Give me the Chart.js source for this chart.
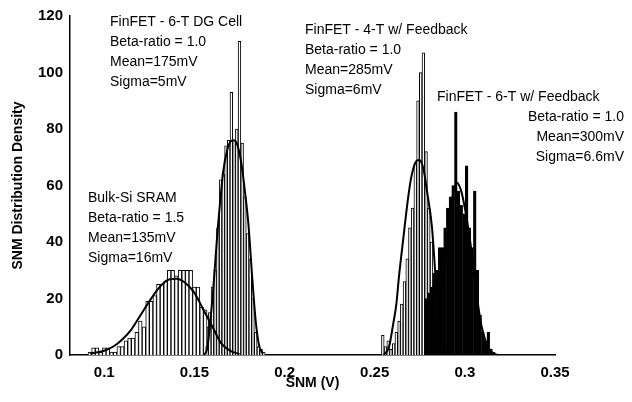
<!DOCTYPE html>
<html lang="en">
  <head>
    <meta charset="UTF-8" />
    <title>SNM Distribution Density</title>
    <style>
      html,
      body {
        margin: 0;
        padding: 0;
        background: #fff;
      }
      #snm-chart {
        display: block;
      }
    </style>
  </head>

  <body>
    <canvas id="snm-chart" width="632" height="402"></canvas>

    <script src="https://cdn.jsdelivr.net/npm/chart.js"></script>
    <script>
      // axis ticks
      const xTicks = [0.1, 0.15, 0.2, 0.25, 0.3, 0.35];
      const yTicks = [0, 20, 40, 60, 80, 100, 120];

      // Bulk-Si SRAM histogram (bin centre in V, density)
      const bulkSnm = [
        0.092, 0.094, 0.096, 0.098, 0.1, 0.102, 0.104, 0.106, 0.108, 0.11,
        0.112, 0.114, 0.116, 0.118, 0.12, 0.122, 0.124, 0.126, 0.128, 0.13,
        0.132, 0.134, 0.136, 0.138, 0.14, 0.142, 0.144, 0.146, 0.148, 0.15,
        0.152, 0.154, 0.156, 0.158, 0.16, 0.162, 0.164, 0.166, 0.168,
      ];
      const bulkDensity = [
        1, 2.5, 2.5, 1, 2.5, 2.5, 1, 1, 3, 3, 5, 6, 6, 8, 12, 10, 19, 19, 21,
        25, 25, 26, 30, 30, 28, 30, 30, 30, 30, 24, 24, 17, 16, 10, 8, 5, 3, 2,
        1,
      ];
      const bulkFitSnm = [
        0.092, 0.1, 0.105, 0.11, 0.115, 0.12, 0.125, 0.13, 0.135, 0.14, 0.145,
        0.15, 0.155, 0.16, 0.165, 0.17, 0.175,
      ];
      const bulkFit = [
        0.5, 1.5, 3, 5.5, 9, 14, 19, 23.5, 26.5, 27, 25.5, 22, 16, 10, 4, 1.5,
        0.3,
      ];

      // FinFET 6-T DG cell
      const dgSnm = [
        0.157, 0.1585, 0.16, 0.1615, 0.163, 0.1645, 0.166, 0.1675, 0.169,
        0.1705, 0.172, 0.1735, 0.175, 0.1765, 0.178, 0.1795, 0.181, 0.1825,
        0.184, 0.1855, 0.187, 0.1885,
      ];
      const dgDensity = [
        3, 15, 24, 30, 45, 62, 64, 74, 76, 93, 76, 80, 111, 75, 56, 43, 34, 20,
        8, 3, 2, 1,
      ];
      const dgFitSnm = [
        0.155, 0.157, 0.16, 0.163, 0.166, 0.168, 0.17, 0.172, 0.174, 0.176,
        0.178, 0.18, 0.182, 0.184, 0.186, 0.188,
      ];
      const dgFit = [0, 2, 20, 45, 65, 72, 75.5, 76, 74, 68, 58, 46, 28, 12, 3, 0.5];

      // FinFET 4-T w/ feedback
      const fourTSnm = [
        0.2545, 0.256, 0.2575, 0.259, 0.2605, 0.262, 0.2635, 0.265, 0.2665,
        0.268, 0.2695, 0.271, 0.2725, 0.274, 0.2755, 0.277, 0.2785, 0.28,
        0.2815, 0.283, 0.2845, 0.286, 0.2875,
      ];
      const fourTDensity = [
        7, 3, 5, 2, 4, 8, 12, 18, 26, 34, 45, 52, 68, 90, 100, 107, 72, 52, 40,
        25, 14, 6, 2,
      ];
      const fourTFitSnm = [
        0.255, 0.258, 0.26, 0.262, 0.2635, 0.266, 0.268, 0.27, 0.2725, 0.2746,
        0.277, 0.279, 0.2818, 0.284, 0.2856, 0.288, 0.29,
      ];
      const fourTFit = [0, 3, 10, 18, 28, 42, 53, 62, 68, 69, 66, 58, 45, 25, 10, 3, 0.5];

      // FinFET 6-T w/ feedback
      const sixTSnm = [
        0.2785, 0.28, 0.2815, 0.283, 0.2845, 0.286, 0.2875, 0.289, 0.2905,
        0.292, 0.2935, 0.295, 0.2965, 0.298, 0.2995, 0.301, 0.3025, 0.304,
        0.3055, 0.307, 0.3085, 0.31, 0.3115, 0.313, 0.3145, 0.316,
      ];
      const sixTDensity = [
        20, 22, 24, 29, 30, 38, 38, 45, 52, 56, 60, 86, 58, 53, 50, 67, 45, 38,
        58, 30, 14, 8, 5, 8, 2, 1,
      ];
      const sixTFitSnm = [
        0.278, 0.282, 0.285, 0.288, 0.291, 0.2935, 0.2956, 0.298, 0.3, 0.303,
        0.306, 0.309, 0.312, 0.315, 0.318,
      ];
      const sixTFit = [0, 4, 12, 27, 45, 57, 61, 58, 52, 40, 24, 11, 4, 1, 0];

      // text blocks written over the plot
      const notes = [
        {
          x: 110, y: 22, align: "left",
          lines: ["FinFET - 6-T DG Cell", "Beta-ratio = 1.0", "Mean=175mV", "Sigma=5mV"],
        },
        {
          x: 305, y: 30, align: "left",
          lines: ["FinFET - 4-T w/ Feedback", "Beta-ratio = 1.0", "Mean=285mV", "Sigma=6mV"],
        },
        { x: 437, y: 97, align: "left", lines: ["FinFET - 6-T w/ Feedback"] },
        {
          x: 624, y: 117, align: "right",
          lines: ["Beta-ratio = 1.0", "Mean=300mV", "Sigma=6.6mV"],
        },
        {
          x: 88, y: 198, align: "left",
          lines: ["Bulk-Si SRAM", "Beta-ratio = 1.5", "Mean=135mV", "Sigma=16mV"],
        },
      ];

      const toPoints = (xs, ys) => xs.map((x, i) => ({ x: x, y: ys[i] }));
      const fontFamily = "'Liberation Sans', Arial, Helvetica, sans-serif";

      function fitLine(xs, ys) {
        return {
          type: "line",
          data: toPoints(xs, ys),
          borderColor: "#000",
          borderWidth: 2,
          pointRadius: 0,
          fill: false,
          cubicInterpolationMode: "monotone",
        };
      }

      function histogram(xs, ys, fillColor, thickness) {
        return {
          type: "bar",
          data: toPoints(xs, ys),
          backgroundColor: fillColor,
          borderColor: "#000",
          borderWidth: 1,
          barThickness: thickness,
          grouped: false,
        };
      }

      const notesPlugin = {
        id: "notes",
        afterDraw(chart) {
          const ctx = chart.ctx;
          ctx.save();
          ctx.fillStyle = "#000";
          ctx.font = "14px " + fontFamily;
          ctx.textBaseline = "middle";
          notes.forEach((n) => {
            ctx.textAlign = n.align;
            n.lines.forEach((line, i) => {
              ctx.fillText(line, n.x, n.y + i * 20);
            });
          });
          ctx.restore();
        },
      };

      new Chart(document.getElementById("snm-chart"), {
        data: {
          datasets: [
            fitLine(bulkFitSnm, bulkFit),
            fitLine(dgFitSnm, dgFit),
            fitLine(fourTFitSnm, fourTFit),
            fitLine(sixTFitSnm, sixTFit),
            histogram(sixTSnm, sixTDensity, "#000", 2.7),
            histogram(fourTSnm, fourTDensity, "#fff", 2.7),
            histogram(dgSnm, dgDensity, "#fff", 2.7),
            histogram(bulkSnm, bulkDensity, "#fff", 3.6),
          ],
        },
        options: {
          responsive: false,
          animation: false,
          layout: { padding: { top: 13, right: 77, left: 0, bottom: 0 } },
          plugins: {
            legend: { display: false },
            tooltip: { enabled: false },
          },
          scales: {
            x: {
              type: "linear",
              offset: false,
              min: 0.081,
              max: 0.35,
              afterBuildTicks: (scale) => {
                scale.ticks = xTicks.map((v) => ({ value: v }));
              },
              afterFit: (scale) => {
                scale.height = 47;
              },
              grid: { display: false, drawTicks: false },
              border: { display: true, color: "#000", width: 1.5 },
              ticks: {
                color: "#000",
                padding: 9,
                maxRotation: 0,
                font: { family: fontFamily, size: 15, weight: "bold" },
                callback: (v) => String(v),
              },
              title: {
                display: true,
                text: "SNM (V)",
                color: "#000",
                font: { family: fontFamily, size: 14, weight: "bold" },
                padding: { top: 0, bottom: 10 },
              },
            },
            y: {
              min: 0,
              max: 120,
              afterBuildTicks: (scale) => {
                scale.ticks = yTicks.map((v) => ({ value: v }));
              },
              afterFit: (scale) => {
                scale.width = 70;
              },
              grid: { display: false, drawTicks: false },
              border: { display: true, color: "#000", width: 1.5 },
              ticks: {
                color: "#000",
                padding: 7,
                font: { family: fontFamily, size: 15, weight: "bold" },
              },
              title: {
                display: true,
                text: "SNM Distribution Density",
                color: "#000",
                font: { family: fontFamily, size: 14, weight: "bold" },
                padding: { top: 10, bottom: 0 },
              },
            },
          },
        },
        plugins: [notesPlugin],
      });
    </script>
  </body>
</html>
